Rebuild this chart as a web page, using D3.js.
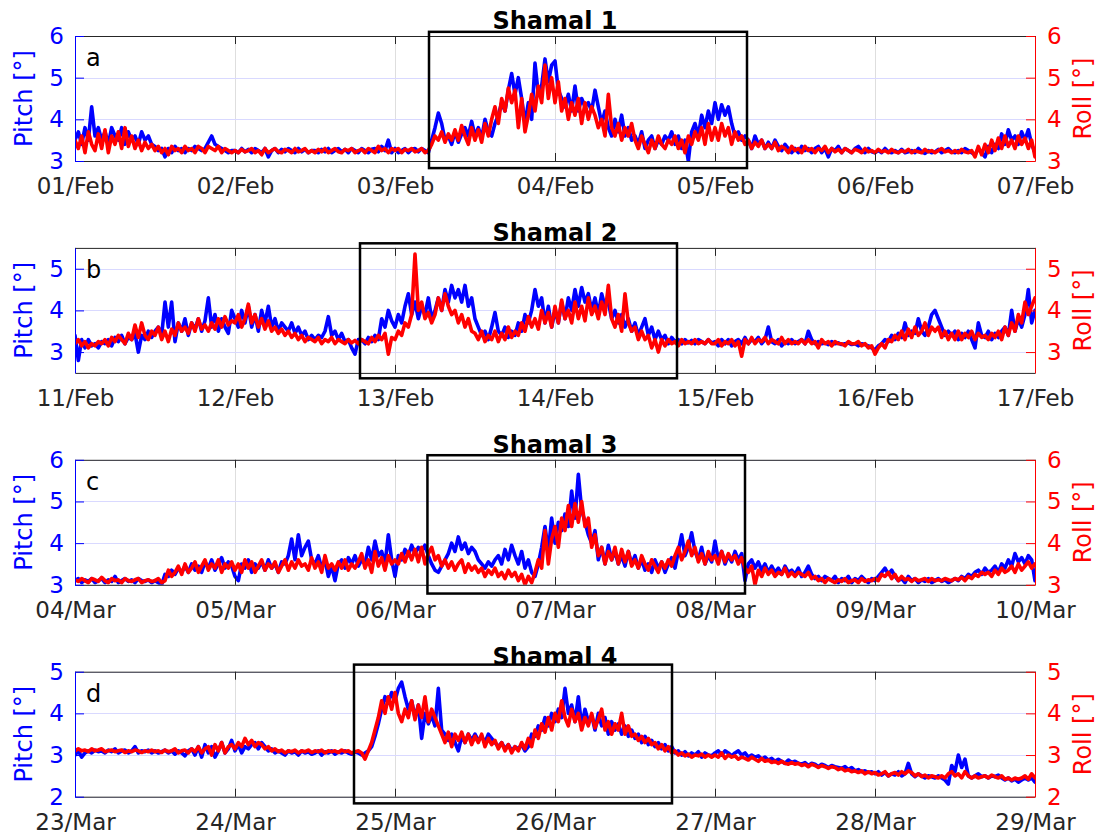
<!DOCTYPE html>
<html>
<head>
<meta charset="utf-8">
<script src="https://cdn.jsdelivr.net/npm/d3@7"></script>
<style>
  html, body { margin: 0; padding: 0; background: #fff; }
  svg { display: block; font-family: "DejaVu Sans", "Liberation Sans", sans-serif; }
</style>
</head>
<body>
<svg id="chart" width="1099" height="835"></svg>
<script>
// ---- Ship motion during four Shamal events: 30-minute pitch / roll amplitudes ----
const panelLetters = ["a", "b", "c", "d"];
const shamalTitles = ["Shamal 1", "Shamal 2", "Shamal 3", "Shamal 4"];
const panelStartDates = ["2017-02-01", "2017-02-11", "2017-03-04", "2017-03-23"];
const pitchRanges = [[3, 6], [2.5, 5.5], [3, 6], [2, 5]];
const rollRanges  = [[3, 6], [2.5, 5.5], [3, 6], [2, 5]];
const pitchTicks = [[3, 4, 5, 6], [3, 4, 5], [3, 4, 5, 6], [2, 3, 4, 5]];
const rollTicks  = [[3, 4, 5, 6], [3, 4, 5], [3, 4, 5, 6], [2, 3, 4, 5]];
// Shamal windows (UTC) and the pitch-axis span of each marking box
const shamalStart = ["2017-02-03T05:06Z", "2017-02-12T18:45Z", "2017-03-06T04:52Z", "2017-03-24T17:51Z"];
const shamalEnd   = ["2017-02-05T04:48Z", "2017-02-14T18:18Z", "2017-03-08T04:30Z", "2017-03-26T17:33Z"];
const shamalBoxLow  = [2.83, 2.37, 2.79, 1.84];
const shamalBoxHigh = [6.10, 5.61, 6.11, 5.17];
const sampleMinutes = 30;

const pitchA = [
  3.5,3.7,3.4,3.8, 3.5,4.3,3.6,3.8, 3.5,3.7,3.4,3.8, 3.6,3.5,3.8,3.4, 3.7,3.5,3.6,3.4, 3.7,3.5,3.6,3.4,
  3.35,3.25,3.3,3.1, 3.3,3.2,3.35,3.25, 3.3,3.2,3.3,3.25, 3.35,3.3,3.25,3.3, 3.45,3.6,3.4,3.35, 3.3,3.25,3.2,3.25,
  3.25,3.2,3.3,3.22, 3.28,3.2,3.3,3.25, 3.2,3.3,3.1,3.25, 3.3,3.2,3.28,3.22, 3.3,3.25,3.2,3.3, 3.22,3.28,3.2,3.25,
  3.25,3.2,3.28,3.22, 3.3,3.2,3.25,3.3, 3.22,3.28,3.2,3.3, 3.25,3.2,3.3,3.25, 3.2,3.28,3.3,3.22, 3.35,3.25,3.5,3.2,
  3.3,3.2,3.25,3.3, 3.2,3.28,3.3,3.22, 3.3,3.25,3.2,3.5, 3.8,4.15,3.9,3.5, 3.6,3.4,3.7,3.45, 3.65,3.8,3.6,3.95,
  3.6,3.8,3.55,4.0, 3.7,3.6,3.9,4.1, 4.4,4.2,4.7,5.1, 4.6,5.0,4.5,3.9, 4.4,4.0,5.35,4.6, 4.8,5.45,4.9,5.3,
  5.4,4.7,4.5,4.3, 4.6,4.2,4.8,4.2, 4.5,4.3,4.4,4.2, 4.7,4.3,3.9,4.2, 3.8,3.6,4.0,3.7, 4.1,3.6,3.8,3.5,
  3.6,3.4,3.7,3.3, 3.5,3.6,3.3,3.5, 3.4,3.6,3.5,3.7, 3.4,3.6,3.3,3.5, 3.0,3.7,3.9,3.6, 4.1,3.8,4.2,3.9,
  4.4,4.0,4.35,4.1, 4.3,3.9,3.6,3.7, 3.5,3.6,3.5,3.3, 3.6,3.4,3.5,3.3, 3.45,3.3,3.5,3.35, 3.25,3.4,3.3,3.2,
  3.3,3.2,3.35,3.25, 3.3,3.2,3.3,3.35, 3.2,3.3,3.1,3.3, 3.25,3.35,3.2,3.3, 3.25,3.2,3.3,3.35, 3.25,3.2,3.3,3.22,
  3.2,3.25,3.2,3.3, 3.22,3.2,3.25,3.2, 3.28,3.2,3.22,3.25, 3.2,3.3,3.22,3.18, 3.25,3.2,3.22,3.28, 3.2,3.25,3.3,3.22,
  3.2,3.25,3.2,3.3, 3.25,3.2,3.15,3.3, 3.2,3.1,3.35,3.2, 3.4,3.3,3.65,3.4, 3.75,3.5,3.6,3.4, 3.7,3.5,3.75,3.4, 3.2
];
const rollA = [
  3.5,3.3,3.6,3.2, 3.7,3.4,3.25,3.65, 3.3,3.75,3.2,3.6, 3.4,3.7,3.3,3.8, 3.35,3.6,3.3,3.5, 3.25,3.45,3.3,3.4,
  3.25,3.35,3.2,3.3, 3.15,3.35,3.25,3.3, 3.2,3.35,3.25,3.3, 3.2,3.35,3.3,3.2, 3.35,3.3,3.25,3.35, 3.2,3.3,3.25,3.2,
  3.25,3.2,3.28,3.22, 3.25,3.3,3.2,3.25, 3.15,3.3,3.2,3.25, 3.3,3.22,3.2,3.28, 3.25,3.2,3.3,3.22, 3.25,3.3,3.2,3.25,
  3.2,3.28,3.22,3.3, 3.2,3.25,3.3,3.22, 3.2,3.28,3.25,3.3, 3.2,3.25,3.28,3.2, 3.3,3.25,3.2,3.35, 3.25,3.3,3.2,3.3,
  3.25,3.3,3.2,3.28, 3.25,3.3,3.22,3.25, 3.3,3.2,3.25,3.4, 3.6,3.5,3.7,3.45, 3.65,3.5,3.75,3.5, 3.85,3.6,3.4,3.8,
  3.5,3.75,3.45,3.9, 3.6,4.0,4.3,3.9, 4.5,4.2,4.75,4.4, 4.7,3.8,4.5,3.7, 4.1,4.6,4.2,4.8, 4.4,5.3,4.5,5.0,
  4.4,4.9,4.2,4.5, 4.0,4.4,4.1,4.5, 3.9,4.4,4.0,4.3, 4.1,3.8,4.0,3.6, 4.6,3.8,3.6,3.9, 3.5,3.8,3.6,3.9,
  3.5,3.3,3.6,3.4, 3.2,3.5,3.3,3.6, 3.4,3.3,3.5,3.4, 3.6,3.3,3.5,3.2, 3.6,3.4,3.7,3.5, 3.8,3.4,3.9,3.5,
  3.8,3.5,3.9,3.6, 3.8,3.4,3.7,3.5, 3.6,3.4,3.5,3.3, 3.45,3.35,3.5,3.3, 3.4,3.3,3.45,3.25, 3.35,3.3,3.2,3.35,
  3.25,3.3,3.2,3.35, 3.25,3.3,3.2,3.3, 3.25,3.35,3.2,3.3, 3.22,3.28,3.2,3.3, 3.25,3.2,3.28,3.25, 3.2,3.3,3.22,3.25,
  3.2,3.28,3.22,3.25, 3.2,3.28,3.22,3.2, 3.25,3.22,3.28,3.2, 3.25,3.22,3.2,3.28, 3.22,3.25,3.2,3.25, 3.3,3.22,3.25,3.2,
  3.25,3.2,3.28,3.22, 3.2,3.25,3.1,3.35, 3.15,3.4,3.2,3.5, 3.25,3.55,3.3,3.6, 3.35,3.5,3.3,3.6, 3.4,3.55,3.3,3.5, 3.1
];

const pitchB = [
  3.4,2.8,3.3,3.1, 3.3,3.15,3.2,3.1, 3.25,3.2,3.3,3.15, 3.35,3.25,3.4,3.2, 3.35,3.3,3.45,3.0, 3.4,3.3,3.5,3.35,
  3.5,3.6,3.4,4.2, 3.6,4.2,3.25,3.7, 3.5,3.8,3.4,3.7, 3.55,3.8,3.5,3.75, 4.3,3.6,3.9,3.5, 3.8,3.6,3.45,4.0,
  3.8,3.6,4.0,3.7, 4.1,3.6,3.9,3.5, 4.0,3.7,4.1,3.6, 3.8,3.5,3.7,3.6, 3.5,3.7,3.45,3.6, 3.4,3.5,3.3,3.4,
  3.3,3.4,3.35,3.5, 3.85,3.4,3.5,3.3, 3.45,3.25,3.3,3.1, 2.95,3.3,3.3,3.2, 3.35,3.25,3.4,3.3, 3.8,3.6,4.0,3.75,
  3.6,3.9,3.7,4.1, 4.4,3.9,4.2,3.8, 4.1,3.9,4.3,3.8, 4.0,4.3,4.0,4.5, 4.2,4.6,4.3,4.5, 4.2,4.6,4.1,4.3,
  3.8,3.6,3.4,3.5, 3.3,3.6,3.95,3.5, 3.4,3.6,3.35,3.5, 3.4,3.7,3.5,3.9, 3.7,4.0,4.5,4.1, 4.3,3.7,4.1,3.6,
  4.0,3.7,4.2,3.8, 4.3,4.0,4.5,4.1, 4.55,4.2,4.4,4.0, 4.3,3.9,4.4,4.1, 4.2,3.8,4.0,3.7, 3.9,3.6,3.8,3.5,
  3.7,3.4,3.6,3.8, 3.4,3.6,3.3,3.5, 3.3,3.4,3.2,3.35, 3.25,3.3,3.2,3.3, 3.22,3.28,3.2,3.3, 3.25,3.2,3.3,3.22,
  3.25,3.15,3.3,3.2, 3.3,3.15,3.25,3.3, 3.2,3.35,3.2,3.3, 3.25,3.35,3.2,3.3, 3.6,3.25,3.2,3.3, 3.15,3.25,3.2,3.3,
  3.2,3.25,3.3,3.2, 3.5,3.3,3.2,3.25, 3.2,3.22,3.18,3.25, 3.2,3.22,3.18,3.2, 3.22,3.18,3.2,3.15, 3.2,3.18,3.15,3.1,
  3.05,3.15,3.2,3.3, 3.25,3.4,3.3,3.45, 3.35,3.7,3.4,3.5, 3.45,3.8,3.5,3.4, 3.6,3.9,4.0,3.8, 3.6,3.4,3.5,3.4,
  3.5,3.3,3.45,3.35, 3.5,3.3,3.1,3.7, 3.4,3.35,3.5,3.3, 3.45,3.35,3.5,3.6, 3.4,4.0,3.5,3.8, 3.6,3.9,4.5,3.7, 4.0
];
const rollB = [
  3.2,3.3,3.15,3.25, 3.1,3.2,3.15,3.25, 3.2,3.3,3.15,3.35, 3.25,3.4,3.3,3.2, 3.45,3.3,3.65,3.35, 3.7,3.4,3.3,3.5,
  3.4,3.6,3.3,3.5, 3.25,3.55,3.4,3.7, 3.5,3.6,3.45,3.7, 3.5,3.8,3.55,3.65, 3.5,3.7,3.55,3.8, 3.6,3.85,3.65,3.75,
  3.7,3.9,3.6,3.8, 4.15,3.7,3.9,3.6, 3.8,3.55,3.75,3.5, 3.6,3.45,3.55,3.4, 3.5,3.35,3.45,3.3, 3.4,3.25,3.35,3.3,
  3.25,3.35,3.2,3.3, 3.25,3.35,3.2,3.3, 3.25,3.2,3.3,3.22, 3.28,3.2,3.3,3.25, 3.2,3.35,3.25,3.4, 3.3,3.45,2.95,3.35,
  3.3,3.5,3.4,3.7, 3.6,3.9,5.35,4.0, 4.2,3.8,3.95,3.7, 3.9,4.3,4.0,4.4, 4.1,3.9,4.0,3.7, 3.9,3.6,3.8,3.5,
  3.45,3.3,3.5,3.25, 3.4,3.3,3.5,3.25, 3.45,3.3,3.6,3.35, 3.5,3.4,3.7,3.5, 3.85,3.6,3.8,3.55, 4.0,3.7,3.95,3.6,
  4.1,3.7,4.25,3.8, 4.0,3.7,4.2,3.8, 4.1,3.75,4.3,3.9, 4.1,3.8,4.2,3.9, 4.6,3.8,3.6,3.9, 3.5,4.4,3.7,3.5,
  3.6,3.3,3.5,3.3, 3.4,3.1,3.3,3.0, 3.3,3.15,3.3,3.2, 3.25,3.15,3.3,3.2, 3.25,3.2,3.3,3.2, 3.25,3.2,3.3,3.2,
  3.2,3.3,3.15,3.25, 3.2,3.3,3.15,3.25, 2.9,3.3,3.2,3.35, 3.2,3.3,3.25,3.35, 3.2,3.3,3.25,3.2, 3.35,3.2,3.3,3.2,
  3.25,3.2,3.3,3.2, 3.3,3.2,3.25,3.1, 3.3,3.2,3.25,3.15, 3.25,3.2,3.2,3.15, 3.25,3.2,3.2,3.25, 3.15,3.2,3.1,3.15,
  2.95,3.1,3.2,3.1, 3.3,3.25,3.4,3.3, 3.5,3.3,3.55,3.35, 3.6,3.4,3.5,3.7, 3.4,3.6,3.5,3.6, 3.35,3.5,3.3,3.45,
  3.3,3.5,3.3,3.45, 3.35,3.5,3.3,3.45, 3.35,3.4,3.3,3.45, 3.35,3.5,3.3,3.6, 3.4,3.7,3.5,3.9, 3.7,4.2,3.9,4.1, 4.3
];

const pitchC = [
  3.1,3.15,3.05,3.12, 3.08,3.15,3.05,3.1, 3.15,3.05,3.12,3.08, 3.2,3.05,3.1,3.15, 3.08,3.12,3.05,3.15, 3.1,3.08,3.12,3.05,
  3.1,3.05,3.0,3.25, 3.2,3.35,3.25,3.4, 3.3,3.45,3.3,3.5, 3.35,3.45,3.3,3.55, 3.4,3.6,3.35,3.5, 3.65,3.4,3.55,3.45,
  3.2,3.1,3.5,3.4, 3.6,3.3,3.5,3.4, 3.55,3.35,3.6,3.4, 3.5,3.3,3.55,3.5, 3.7,4.1,3.6,4.2, 3.7,3.9,4.05,3.6,
  3.5,3.7,3.4,3.6, 3.2,3.45,3.1,3.5, 3.6,3.4,3.65,3.5, 3.7,3.45,3.6,3.5, 3.9,3.6,4.05,3.7, 3.8,3.5,4.2,3.6,
  3.2,3.7,3.6,3.85, 3.7,3.95,3.75,3.9, 3.8,3.95,3.7,3.5, 3.35,3.3,3.45,3.6, 3.75,4.0,3.8,4.15, 3.85,4.0,3.75,3.9,
  3.8,3.6,3.5,3.4, 3.55,3.45,3.6,3.7, 3.5,3.85,3.6,3.95, 3.7,3.5,3.8,3.4, 3.6,3.3,3.2,3.5, 3.9,4.4,3.8,4.6,
  4.0,4.5,4.3,4.7, 4.4,5.25,4.6,5.65, 4.8,4.5,4.2,4.0, 4.3,3.6,3.9,3.5, 3.95,3.6,3.8,3.5, 3.7,3.45,3.8,3.5,
  3.7,3.4,3.6,3.35, 3.5,3.3,3.6,3.4, 3.55,3.3,3.5,3.65, 3.4,3.8,4.2,3.7, 3.9,4.25,3.8,3.6, 3.9,3.5,3.7,3.55,
  4.05,3.6,3.8,3.5, 3.7,3.55,3.8,3.6, 3.75,3.1,3.5,3.6, 3.4,3.55,3.35,3.5, 3.3,3.45,3.3,3.4, 3.25,3.45,3.3,3.35,
  3.25,3.4,3.2,3.3, 3.45,3.25,3.15,3.2, 3.1,3.2,3.15,3.1, 3.2,3.05,3.15,3.1, 3.2,3.05,3.15,3.1, 3.2,3.12,3.05,3.15,
  3.1,3.2,3.3,3.4, 3.25,3.35,3.2,3.1, 3.15,3.05,3.2,3.1, 3.15,3.05,3.12,3.08, 3.15,3.05,3.1,3.15, 3.08,3.12,3.05,3.1,
  3.15,3.1,3.2,3.15, 3.25,3.2,3.3,3.35, 3.25,3.4,3.3,3.35, 3.45,3.3,3.5,3.4, 3.6,3.45,3.75,3.55, 3.65,3.5,3.7,3.6, 3.1
];
const rollC = [
  3.12,3.08,3.15,3.1, 3.05,3.15,3.12,3.08, 3.18,3.1,3.05,3.15, 3.1,3.12,3.05,3.15, 3.1,3.08,3.12,3.15, 3.05,3.1,3.12,3.08,
  3.1,3.15,3.05,3.1, 3.35,3.2,3.3,3.45, 3.25,3.5,3.3,3.4, 3.55,3.3,3.45,3.6, 3.35,3.5,3.4,3.6, 3.3,3.5,3.4,3.55,
  3.35,3.5,3.3,3.6, 3.4,3.55,3.3,3.45, 3.6,3.35,3.5,3.4, 3.55,3.3,3.45,3.6, 3.35,3.55,3.4,3.6, 3.45,3.5,3.35,3.65,
  3.4,3.55,3.3,3.7, 3.4,3.5,3.35,3.55, 3.4,3.6,3.35,3.5, 3.4,3.55,3.75,3.4, 3.6,3.3,3.8,3.45, 3.65,3.35,3.7,3.5,
  3.6,3.5,3.75,3.55, 3.8,3.6,3.85,3.55, 3.9,3.5,3.75,3.9, 3.6,3.7,3.45,3.6, 3.4,3.55,3.35,3.5, 3.6,3.3,3.5,3.35,
  3.45,3.3,3.4,3.2, 3.35,3.25,3.4,3.2, 3.3,3.15,3.35,3.2, 3.3,3.1,3.25,3.0, 3.2,3.05,3.3,3.6, 3.4,4.3,3.5,4.1,
  4.4,3.9,4.6,4.3, 4.9,4.4,4.95,4.5, 5.0,4.4,4.6,3.9, 4.2,3.7,3.9,3.5, 3.8,3.6,3.9,3.5, 3.85,3.55,3.8,3.45,
  3.6,3.4,3.7,3.5, 3.35,3.6,3.45,3.3, 3.55,3.4,3.6,3.45, 3.7,3.9,3.6,3.8, 4.05,3.7,3.9,3.55, 3.75,3.5,3.8,3.6,
  3.7,3.5,3.8,3.55, 3.75,3.6,3.7,3.5, 3.65,3.4,3.3,3.45, 3.0,3.35,3.2,3.4, 3.25,3.35,3.2,3.3, 3.25,3.4,3.2,3.3,
  3.2,3.3,3.25,3.2, 3.3,3.15,3.2,3.1, 3.15,3.05,3.15,3.1, 3.05,3.12,3.08,3.15, 3.05,3.1,3.12,3.05, 3.15,3.08,3.12,3.1,
  3.15,3.1,3.25,3.2, 3.3,3.15,3.25,3.1, 3.2,3.12,3.15,3.08, 3.15,3.1,3.12,3.15, 3.08,3.15,3.1,3.12, 3.1,3.15,3.12,3.1,
  3.15,3.12,3.18,3.1, 3.2,3.15,3.25,3.2, 3.3,3.25,3.3,3.2, 3.35,3.25,3.4,3.3, 3.35,3.45,3.3,3.5, 3.35,3.45,3.55,3.4, 3.5
];

const pitchD = [
  3.0,3.1,2.95,3.05, 3.1,3.05,3.12,3.08, 3.1,3.05,3.12,3.08, 3.15,3.05,3.1,3.12, 3.05,3.1,3.2,3.05, 3.1,3.08,3.12,3.05,
  3.1,3.05,3.08,3.12, 3.05,3.1,3.02,3.1, 3.05,2.98,3.1,3.15, 3.0,3.2,2.95,3.25, 3.05,3.2,2.95,3.1, 3.3,3.05,3.15,3.35,
  3.1,3.25,3.05,3.2, 3.15,3.25,3.3,3.15, 3.3,3.2,3.1,3.15, 3.05,3.1,3.05,3.0, 3.1,3.05,3.08,3.0, 3.1,3.05,3.08,3.02,
  3.05,3.1,3.0,3.08, 3.05,3.1,3.02,3.08, 3.05,3.1,3.05,3.02, 3.08,3.05,3.0,3.05, 3.1,3.2,3.45,3.75, 4.1,4.4,4.25,4.5,
  4.3,4.6,4.75,4.4, 4.1,4.3,3.9,4.2, 3.4,4.0,3.75,3.95, 3.7,4.6,3.6,3.5, 3.35,3.5,3.3,3.1, 3.45,3.3,3.5,3.35,
  3.5,3.35,3.45,3.3, 3.5,3.4,3.3,3.2, 3.3,3.15,3.25,3.1, 3.2,3.15,3.25,3.1, 3.2,3.5,3.45,3.7, 3.6,3.9,3.7,4.0,
  3.8,4.1,3.9,4.6, 4.0,4.2,3.8,4.4, 3.7,4.1,3.8,3.95, 3.6,4.0,3.7,3.9, 3.5,3.8,3.6,3.75, 3.5,3.7,3.45,3.6,
  3.4,3.5,3.3,3.45, 3.25,3.35,3.2,3.3, 3.15,3.25,3.1,3.2, 3.05,3.1,3.0,3.08, 2.98,3.05,3.0,3.08, 2.95,3.05,3.0,2.98,
  3.05,3.1,3.0,3.1, 3.05,2.98,3.05,3.1, 3.0,3.05,2.95,3.0, 2.95,2.98,2.9,2.95, 2.88,2.92,2.85,2.9, 2.85,2.8,2.88,2.82,
  2.85,2.8,2.78,2.82, 2.75,2.8,2.78,2.72, 2.78,2.75,2.7,2.75, 2.72,2.7,2.68,2.72, 2.65,2.7,2.62,2.65, 2.6,2.62,2.58,2.6,
  2.55,2.6,2.52,2.58, 2.5,2.55,2.52,2.6, 2.5,2.55,2.8,2.55, 2.48,2.55,2.5,2.45, 2.5,2.48,2.45,2.5, 2.45,2.4,2.3,2.75,
  2.6,3.0,2.7,2.9, 2.5,2.45,2.5,2.55, 2.48,2.5,2.45,2.5, 2.48,2.52,2.45,2.4, 2.45,2.38,2.42,2.35, 2.4,2.45,2.4,2.45, 2.35
];
const rollD = [
  3.1,3.15,3.1,3.12, 3.08,3.15,3.1,3.12, 3.15,3.08,3.1,3.12, 3.08,3.1,3.12,3.06, 3.1,3.08,3.12,3.1, 3.06,3.1,3.08,3.12,
  3.08,3.1,3.06,3.12, 3.08,3.1,3.15,3.05, 3.1,3.12,3.05,3.15, 3.08,3.2,3.05,3.15, 3.2,3.0,3.25,3.1, 3.3,3.05,3.2,3.25,
  3.15,3.3,3.2,3.4, 3.25,3.35,3.2,3.3, 3.25,3.15,3.2,3.1, 3.15,3.08,3.12,3.05, 3.1,3.08,3.12,3.05, 3.1,3.08,3.12,3.06,
  3.1,3.08,3.12,3.05, 3.1,3.08,3.1,3.06, 3.12,3.08,3.1,3.05, 3.08,3.1,3.05,2.9, 3.1,3.3,3.6,3.9, 4.3,4.0,4.4,4.1,
  4.5,4.0,3.8,4.1, 3.9,4.3,3.85,4.2, 3.9,4.4,3.8,4.1, 3.9,3.7,3.5,3.3, 3.55,3.2,3.5,3.35, 3.55,3.3,3.5,3.25,
  3.45,3.3,3.5,3.2, 3.4,3.25,3.35,3.15, 3.3,3.1,3.25,3.05, 3.2,3.1,3.3,3.15, 3.4,3.2,3.6,3.4, 3.75,3.55,3.9,3.6,
  4.0,3.8,4.3,3.9, 3.7,4.1,3.8,4.0, 3.6,3.9,3.7,4.0, 3.65,3.85,4.1,3.6, 3.8,3.5,3.75,3.6, 4.0,3.5,3.7,3.45,
  3.5,3.35,3.45,3.3, 3.4,3.25,3.3,3.15, 3.25,3.1,3.2,3.05, 3.1,3.0,3.05,2.98, 3.02,2.95,3.0,2.98, 3.02,2.95,3.0,2.95,
  3.0,2.95,3.05,2.92, 3.0,2.95,2.98,2.9, 2.95,2.92,2.88,2.95, 2.9,2.85,2.92,2.85, 2.88,2.82,2.85,2.8, 2.85,2.8,2.78,2.82,
  2.78,2.8,2.75,2.78, 2.72,2.78,2.75,2.7, 2.75,2.72,2.68,2.72, 2.7,2.65,2.68,2.62, 2.65,2.6,2.62,2.58, 2.62,2.55,2.6,2.55,
  2.58,2.52,2.55,2.6, 2.5,2.55,2.58,2.52, 2.6,2.55,2.62,2.58, 2.5,2.55,2.48,2.52, 2.45,2.5,2.48,2.45, 2.5,2.45,2.55,2.6,
  2.5,2.55,2.45,2.6, 2.5,2.45,2.5,2.45, 2.48,2.5,2.45,2.52, 2.48,2.45,2.5,2.42, 2.45,2.4,2.45,2.42, 2.45,2.5,2.42,2.55, 2.45
];

const pitchSeries = [pitchA, pitchB, pitchC, pitchD];
const rollSeries  = [rollA, rollB, rollC, rollD];

// ---- layout ----
const plotLeft = 75, plotRight = 1035;
const plotHeight = 125, panelStep = 211.9, firstTop = 36;
const pitchColor = "#0000ff", rollColor = "#ff0000", axisColor = "#262626";
const fontSize = 24, tickFontSize = 23;
const lineWidth = 3.6;
const dayLabel = d3.utcFormat("%d/%b");

const svg = d3.select("#chart");

panelLetters.forEach((letter, k) => {
  const top = firstTop + k * panelStep;
  const bottom = top + plotHeight;
  const t0 = new Date(panelStartDates[k] + "T00:00:00Z");
  const t1 = d3.utcDay.offset(t0, 6);
  const days = d3.utcDay.range(t0, d3.utcDay.offset(t1, 1));

  const x = d3.scaleUtc().domain([t0, t1]).range([plotLeft, plotRight]);
  const yPitch = d3.scaleLinear().domain(pitchRanges[k]).range([bottom, top]);
  const yRoll  = d3.scaleLinear().domain(rollRanges[k]).range([bottom, top]);

  const g = svg.append("g").attr("class", "panel panel-" + letter);

  const clipId = "clip-" + letter;
  g.append("clipPath").attr("id", clipId)
    .append("rect")
    .attr("x", plotLeft).attr("y", top)
    .attr("width", plotRight - plotLeft).attr("height", plotHeight);

  // grid
  g.append("g").selectAll("line").data(days).join("line")
    .attr("x1", d => Math.round(x(d)) + 0.5).attr("x2", d => Math.round(x(d)) + 0.5)
    .attr("y1", top).attr("y2", bottom)
    .attr("stroke", "#dedede").attr("stroke-width", 1);
  g.append("g").selectAll("line").data(pitchTicks[k]).join("line")
    .attr("x1", plotLeft).attr("x2", plotRight)
    .attr("y1", d => Math.round(yPitch(d)) + 0.5).attr("y2", d => Math.round(yPitch(d)) + 0.5)
    .attr("stroke", "#d9d9ff").attr("stroke-width", 1);

  // series
  const timeAt = i => d3.utcMinute.offset(t0, i * sampleMinutes);
  const pitchLine = d3.line().x((d, i) => x(timeAt(i))).y(d => yPitch(d));
  const rollLine  = d3.line().x((d, i) => x(timeAt(i))).y(d => yRoll(d));
  const lines = g.append("g").attr("clip-path", `url(#${clipId})`);
  lines.append("path").datum(pitchSeries[k])
    .attr("d", pitchLine).attr("fill", "none")
    .attr("stroke", pitchColor).attr("stroke-width", lineWidth)
    .attr("stroke-linejoin", "round").attr("stroke-linecap", "round");
  lines.append("path").datum(rollSeries[k])
    .attr("d", rollLine).attr("fill", "none")
    .attr("stroke", rollColor).attr("stroke-width", lineWidth)
    .attr("stroke-linejoin", "round").attr("stroke-linecap", "round");

  // axes
  const styleAxis = (sel, color) => {
    sel.attr("color", color)
      .attr("font-family", "'DejaVu Sans', sans-serif")
      .attr("font-size", tickFontSize);
    sel.selectAll(".domain").attr("stroke-width", 1);
  };

  g.append("g").attr("transform", `translate(0,${top})`)
    .call(d3.axisTop(x).tickValues(days).tickFormat("").tickSizeInner(-8).tickSizeOuter(0))
    .call(s => styleAxis(s, axisColor));

  g.append("g").attr("transform", `translate(0,${bottom})`)
    .call(d3.axisBottom(x).tickValues(days).tickFormat(dayLabel)
      .tickSizeInner(-8).tickSizeOuter(0).tickPadding(17))
    .call(s => styleAxis(s, axisColor))
    .call(s => s.selectAll("text").attr("fill", axisColor));

  g.append("g").attr("transform", `translate(${plotLeft},0)`)
    .call(d3.axisLeft(yPitch).tickValues(pitchTicks[k]).tickFormat(d3.format("d"))
      .tickSizeInner(-9).tickSizeOuter(0).tickPadding(11))
    .call(s => styleAxis(s, pitchColor));

  g.append("g").attr("transform", `translate(${plotRight},0)`)
    .call(d3.axisRight(yRoll).tickValues(rollTicks[k]).tickFormat(d3.format("d"))
      .tickSizeInner(-9).tickSizeOuter(0).tickPadding(12))
    .call(s => styleAxis(s, rollColor));

  // axis titles
  const midY = (top + bottom) / 2;
  g.append("text")
    .attr("transform", `translate(32,${midY}) rotate(-90)`)
    .attr("text-anchor", "middle").attr("font-size", fontSize)
    .attr("fill", pitchColor).text("Pitch [°]");
  g.append("text")
    .attr("transform", `translate(1091,${midY}) rotate(-90)`)
    .attr("text-anchor", "middle").attr("font-size", fontSize)
    .attr("fill", rollColor).text("Roll [°]");

  // panel letter
  g.append("text")
    .attr("x", plotLeft + 11).attr("y", top + 30)
    .attr("font-size", fontSize).attr("fill", "#000").text(letter);

  // Shamal window box and title
  const bx0 = x(new Date(shamalStart[k])), bx1 = x(new Date(shamalEnd[k]));
  const by0 = yPitch(shamalBoxHigh[k]), by1 = yPitch(shamalBoxLow[k]);
  g.append("rect")
    .attr("x", bx0).attr("y", by0)
    .attr("width", bx1 - bx0).attr("height", by1 - by0)
    .attr("fill", "none").attr("stroke", "#000").attr("stroke-width", 2.5);

  g.append("text")
    .attr("x", (plotLeft + plotRight) / 2).attr("y", top - 7)
    .attr("text-anchor", "middle").attr("font-size", fontSize)
    .attr("font-weight", "bold").attr("fill", "#000")
    .text(shamalTitles[k]);
});
</script>
</body>
</html>
